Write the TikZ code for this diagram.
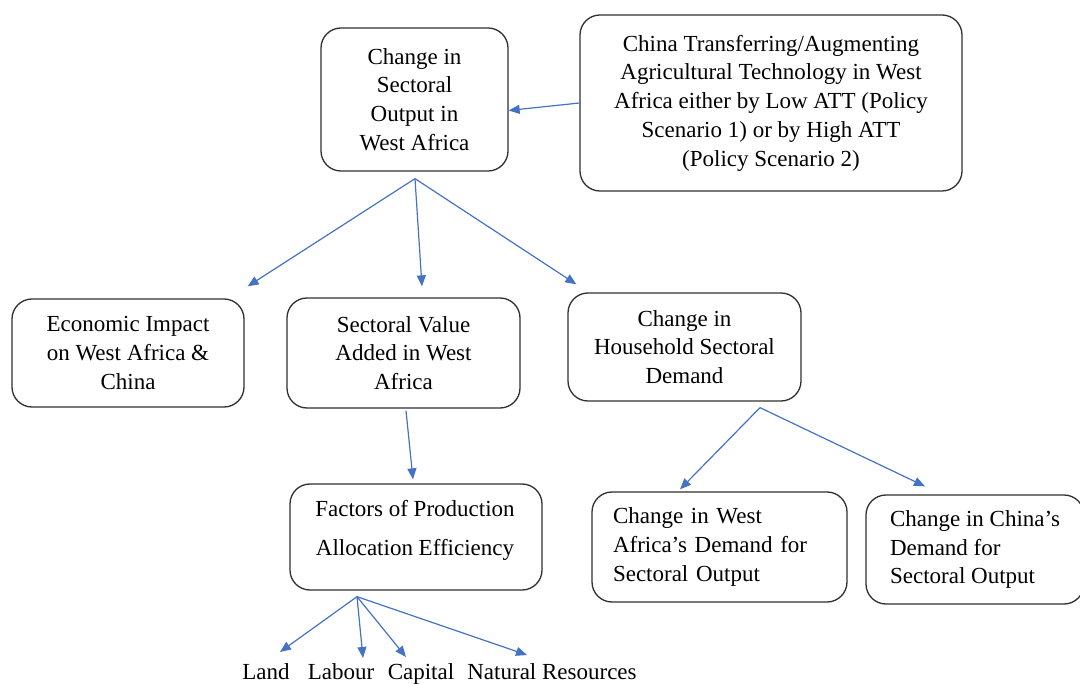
\documentclass[tikz,border=0pt]{standalone}
\usepackage{fontspec}
\setmainfont{Liberation Serif}
\usetikzlibrary{arrows.meta,calc}
\definecolor{arrblue}{HTML}{4472C4}
\definecolor{boxline}{HTML}{303030}
\begin{document}
\begin{tikzpicture}[x=1pt,y=-1pt,
  box/.style={draw=boxline, line width=1.3pt, rounded corners=20pt, align=center, inner sep=0pt, font=\fontsize{23}{28.7}\selectfont},
  txt/.style={align=center, inner sep=0pt, font=\fontsize{23}{39}\selectfont},
  arr/.style={draw=arrblue, line width=1.2pt, -{Triangle[length=11pt,width=9pt]}},
  lbl/.style={font=\fontsize{23}{28.7}\selectfont, inner sep=0pt, anchor=base}]
\useasboundingbox (0,0) rectangle (1080,684);

\node[box, minimum width=187pt, minimum height=143pt] (A) at (414.5,99.5) {Change in\\Sectoral\\Output in\\West Africa};
\node[box, minimum width=382pt, minimum height=176pt] (B) at (771,103) {China Transferring/Augmenting\\Agricultural Technology in West\\Africa either by Low ATT (Policy\\Scenario 1) or by High ATT\\(Policy Scenario 2)};
\node[box, minimum width=232pt, minimum height=108pt] (C) at (128,353) {Economic Impact\\on West Africa \&\\China};
\node[box, minimum width=233pt, minimum height=110pt] (D) at (403.5,353) {Sectoral Value\\Added in West\\Africa};
\node[box, minimum width=233pt, minimum height=108pt] (E) at (684.5,347) {Change in\\Household Sectoral\\Demand};
\node[box, minimum width=252pt, minimum height=106pt] (F) at (416,537) {};
\node[txt] (Ft) at ($(F.center)+(-1,-6.5)$) {Factors of Production\\Allocation Efficiency};
\node[box, minimum width=255pt, minimum height=110pt, text width=213pt, align=left] (G) at (719.5,547) {Change in West\\Africa’s Demand for\\Sectoral Output};
\node[box, minimum width=218pt, minimum height=109pt, align=left] (H) at (975,549.5) {Change in China’s\\Demand for\\Sectoral Output};

\node[lbl] (land) at (266,679) {Land};
\node[lbl] (labour) at (341,679) {Labour};
\node[lbl] (capital) at (421,679) {Capital};
\node[lbl] (nat) at (552,679) {Natural Resources};

\draw[arr] (B.west) -- ($(A.east)+(0,11)$);
\draw[arr] ($(A.south)+(0.5,7)$) -- ($(C.north east)+(3,-12)$);
\draw[arr] ($(A.south)+(0.5,7)$) -- ($(D.north)+(18.5,-11)$);
\draw[arr] ($(A.south)+(0.5,7)$) -- ($(E.north west)+(9,-8)$);
\draw[arr] ($(D.south)+(2.5,2)$) -- ($(F.north)+(-3,-4)$);
\draw[arr] ($(E.south)+(75.5,6)$) -- ($(G.north)+(-39.5,-2)$);
\draw[arr] ($(E.south)+(75.5,6)$) -- ($(H.north)+(-50,-8)$);
\draw[arr] ($(F.south)+(-59,6)$) -- ($(land.base)+(14,-27)$);
\draw[arr] ($(F.south)+(-59,6)$) -- ($(labour.base)+(22,-21)$);
\draw[arr] ($(F.south)+(-59,6)$) -- ($(capital.base)+(-15,-22)$);
\draw[arr] ($(F.south)+(-59,6)$) -- ($(nat.base)+(-25,-24)$);
\end{tikzpicture}
\end{document}
